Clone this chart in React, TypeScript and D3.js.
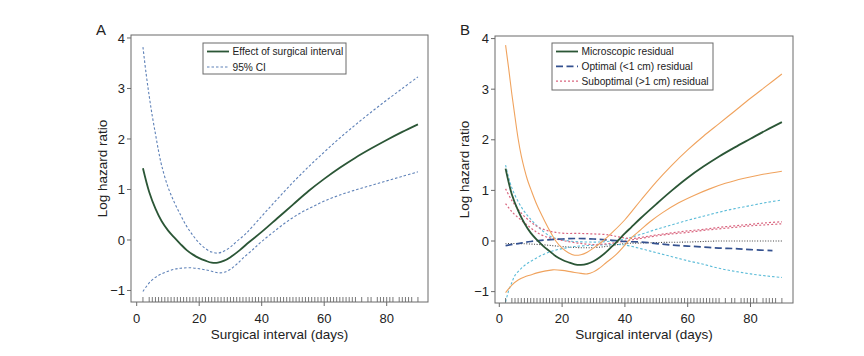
import React from "react";
import * as d3 from "d3";

// ---------- data ----------
const rugDays = [2, ...d3.range(4, 71), 72, 74, 75, 77, 78, 79, 80, 81, 82, 84, 85, 86, 87, 88, 90];
const xTicks = [0, 20, 40, 60, 80];
const yTicks = [-1, 0, 1, 2, 3, 4];

// Panel A
const aEffectDays = [2, 4, 6, 8, 10, 12, 14, 16, 18, 20, 22, 24, 26, 28, 30, 33, 36, 40, 45, 50, 55, 60, 65, 70, 75, 80, 85, 90];
const aEffect = [1.42, 0.95, 0.62, 0.37, 0.19, 0.05, -0.08, -0.2, -0.29, -0.36, -0.41, -0.45, -0.45, -0.41, -0.34, -0.2, -0.04, 0.16, 0.43, 0.7, 0.97, 1.21, 1.43, 1.63, 1.81, 1.98, 2.14, 2.29];
const aUpperDays = [2, 3, 4, 5, 6, 7, 8, 10, 12, 14, 16, 18, 20, 22, 24, 26, 28, 30, 32, 35, 40, 45, 50, 55, 60, 65, 70, 75, 80, 85, 90];
const aUpper = [3.82, 3.3, 2.85, 2.45, 2.1, 1.76, 1.47, 1.05, 0.75, 0.5, 0.27, 0.09, -0.06, -0.17, -0.24, -0.26, -0.22, -0.14, -0.03, 0.13, 0.47, 0.81, 1.14, 1.45, 1.74, 2.02, 2.28, 2.53, 2.77, 3.0, 3.23];
const aLowerDays = [2, 4, 6, 8, 10, 12, 14, 17, 20, 22, 24, 26, 28, 30, 32, 34, 37, 40, 44, 48, 52, 56, 60, 65, 70, 75, 80, 85, 90];
const aLower = [-1.02, -0.85, -0.74, -0.67, -0.62, -0.58, -0.56, -0.55, -0.57, -0.59, -0.62, -0.65, -0.64, -0.58, -0.48, -0.36, -0.2, -0.03, 0.17, 0.36, 0.52, 0.65, 0.77, 0.89, 0.99, 1.08, 1.17, 1.26, 1.35];

// Panel B
const bMicroDays = [2, 4, 6, 8, 10, 12, 14, 16, 18, 20, 22, 24, 26, 28, 30, 32, 34, 36, 38, 40, 42, 45, 50, 55, 60, 65, 70, 75, 80, 85, 90];
const bMicro = [1.43, 0.92, 0.6, 0.35, 0.16, 0.02, -0.1, -0.2, -0.3, -0.37, -0.42, -0.46, -0.47, -0.45, -0.4, -0.32, -0.22, -0.1, 0.02, 0.15, 0.27, 0.45, 0.73, 1.0, 1.25, 1.47, 1.67, 1.85, 2.02, 2.19, 2.35];
const bMicroUpDays = [2, 3, 4, 5, 6, 7, 8, 9, 10, 12, 14, 16, 18, 20, 22, 24, 26, 28, 30, 33, 36, 40, 45, 50, 55, 60, 65, 70, 75, 80, 85, 90];
const bMicroUp = [3.87, 3.4, 2.9, 2.45, 2.02, 1.68, 1.42, 1.2, 1.03, 0.71, 0.45, 0.21, 0.0, -0.14, -0.23, -0.28, -0.27, -0.22, -0.14, 0.0, 0.17, 0.42, 0.8, 1.17, 1.5, 1.8, 2.07, 2.32, 2.57, 2.82, 3.06, 3.3];
const bMicroLoDays = [2, 4, 6, 8, 10, 12, 14, 17, 20, 23, 26, 28, 30, 32, 34, 37, 40, 42, 45, 48, 52, 57, 62, 67, 72, 78, 84, 90];
const bMicroLo = [-1.02, -0.87, -0.77, -0.71, -0.67, -0.63, -0.6, -0.57, -0.58, -0.61, -0.64, -0.65, -0.61, -0.53, -0.43, -0.28, -0.08, 0.06, 0.22, 0.38, 0.56, 0.75, 0.9, 1.03, 1.14, 1.24, 1.32, 1.38];
const bOptDays = [2, 6, 10, 15, 20, 25, 30, 35, 40, 45, 50, 55, 60, 65, 70, 75, 80, 87];
const bOpt = [-0.09, -0.05, -0.01, 0.02, 0.04, 0.05, 0.04, 0.02, -0.01, -0.02, -0.05, -0.08, -0.1, -0.12, -0.14, -0.15, -0.17, -0.19];
const bRefDays = [2, 6, 10, 15, 20, 25, 30, 35, 40, 45, 50, 60, 70, 80, 90];
const bRef = [-0.05, -0.05, -0.06, -0.08, -0.11, -0.13, -0.13, -0.1, -0.05, -0.04, -0.03, -0.02, 0, 0, 0];
const bCyanUpDays = [2, 3, 4, 6, 8, 10, 12, 14, 16, 18, 20, 24, 28, 32, 36, 40, 45, 50, 55, 60, 65, 70, 75, 80, 85, 90];
const bCyanUp = [1.5, 1.25, 1.05, 0.78, 0.58, 0.43, 0.3, 0.19, 0.1, 0.05, 0.02, -0.01, -0.02, -0.02, 0.0, 0.04, 0.13, 0.23, 0.32, 0.41, 0.49, 0.57, 0.64, 0.7, 0.76, 0.81];
const bCyanLoDays = [2, 3, 4, 5, 7, 9, 12, 15, 18, 21, 24, 28, 32, 36, 40, 45, 50, 55, 60, 65, 70, 75, 80, 85, 90];
const bCyanLo = [-1.2, -0.98, -0.82, -0.68, -0.54, -0.44, -0.33, -0.24, -0.18, -0.14, -0.11, -0.09, -0.08, -0.07, -0.08, -0.15, -0.23, -0.31, -0.39, -0.46, -0.54, -0.6, -0.65, -0.69, -0.72];
const bPink1Days = [2, 4, 7, 10, 12, 15, 18, 21, 25, 30, 35, 38, 42, 46, 50, 55, 60, 65, 70, 75, 80, 85, 90];
const bPink1 = [1.03, 0.8, 0.55, 0.38, 0.29, 0.21, 0.17, 0.15, 0.15, 0.14, 0.12, 0.08, 0.05, 0.08, 0.12, 0.16, 0.2, 0.23, 0.27, 0.3, 0.33, 0.36, 0.38];
const bPink2Days = [2, 4, 7, 10, 12, 15, 18, 21, 25, 30, 35, 40, 45, 50, 55, 60, 65, 70, 75, 80, 85, 90];
const bPink2 = [0.74, 0.58, 0.41, 0.26, 0.17, 0.08, 0.04, 0.0, -0.04, -0.07, -0.05, 0.0, 0.05, 0.1, 0.14, 0.17, 0.21, 0.24, 0.27, 0.3, 0.32, 0.34];

const legendA = ["Effect of surgical interval", "95% CI"];
const legendB = ["Microscopic residual", "Optimal (<1 cm) residual", "Suboptimal (>1 cm) residual"];

// ---------- styles ----------
const FONT = "'Liberation Sans', Arial, Helvetica, sans-serif";
const GREEN = "#2b5636";
const CI_BLUE = "#5f82b8";
const ORANGE = "#f0a35e";
const CYAN = "#5cbcd8";
const PINK = "#d9657f";
const NAVY = "#34518f";
const AXIS = "#6a6a6a";

type Style = { color: string; width: number; dash?: string };
type Series = { days: number[]; vals: number[]; style: Style };

const S_GREEN: Style = { color: GREEN, width: 1.8 };
const S_CI: Style = { color: CI_BLUE, width: 1.1, dash: "2.5,2" };
const S_ORANGE: Style = { color: ORANGE, width: 1.1 };
const S_CYAN: Style = { color: CYAN, width: 1.1, dash: "2.5,2" };
const S_PINK: Style = { color: PINK, width: 1.2, dash: "2,2" };
const S_NAVY: Style = { color: NAVY, width: 1.7, dash: "7,3.5" };
const S_REF: Style = { color: "#444", width: 1.1, dash: "1,1.6" };

type PanelProps = {
  label: string;
  left: number; right: number; top: number; bottom: number;
  xDomain: [number, number]; yDomain: [number, number];
  titleX: number;
  series: Series[];
  legend: { items: { text: string; style: Style }[]; x: number; y: number; w: number; h: number; rowH: number };
};

function Panel(p: PanelProps) {
  const x = d3.scaleLinear().domain(p.xDomain).range([p.left, p.right]);
  const y = d3.scaleLinear().domain(p.yDomain).range([p.bottom, p.top]);
  const line = d3
    .line<[number, number]>()
    .x((d) => x(d[0]))
    .y((d) => y(d[1]))
    .curve(d3.curveCatmullRom.alpha(0.5));
  const cx = (p.left + p.right) / 2;
  const cy = (p.top + p.bottom) / 2;
  return (
    <g fontFamily={FONT} fill="#222">
      {p.series.map((s, i) => (
        <path
          key={i}
          d={line(s.days.map((d, j) => [d, s.vals[j]] as [number, number])) || ""}
          fill="none"
          stroke={s.style.color}
          strokeWidth={s.style.width}
          strokeDasharray={s.style.dash}
        />
      ))}
      {rugDays.map((d, i) => (
        <line key={"r" + i} x1={x(d)} x2={x(d)} y1={p.bottom} y2={p.bottom - 5} stroke="#555" strokeWidth={0.8} />
      ))}
      <rect x={p.left} y={p.top} width={p.right - p.left} height={p.bottom - p.top} fill="none" stroke={AXIS} strokeWidth={1} />
      {xTicks.map((t) => (
        <g key={"x" + t}>
          <line x1={x(t)} x2={x(t)} y1={p.bottom} y2={p.bottom + 4} stroke={AXIS} strokeWidth={1} />
          <text x={x(t)} y={323} textAnchor="middle" fontSize={13} fill="#222">{t}</text>
        </g>
      ))}
      {yTicks.map((t) => (
        <g key={"y" + t}>
          <line x1={p.left} x2={p.left - 4} y1={y(t)} y2={y(t)} stroke={AXIS} strokeWidth={1} />
          <text x={p.left - 6} y={y(t)} dy="0.35em" textAnchor="end" fontSize={13} fill="#222">
            {t < 0 ? "\u2212" + Math.abs(t) : String(t)}
          </text>
        </g>
      ))}
      <text x={cx} y={339} textAnchor="middle" fontSize={13.5} fill="#222">Surgical interval (days)</text>
      <text transform={`translate(${p.titleX},${cy}) rotate(-90)`} textAnchor="middle" fontSize={13.5} fill="#222">Log hazard ratio</text>
      <text x={p.left - 35} y={35} fontSize={15} fill="#222">{p.label}</text>
      <rect x={p.legend.x} y={p.legend.y} width={p.legend.w} height={p.legend.h} fill="#fff" stroke={AXIS} strokeWidth={1} />
      {p.legend.items.map((it, i) => {
        const ly = p.legend.y + 8.5 + i * p.legend.rowH;
        return (
          <g key={"l" + i}>
            <line x1={p.legend.x + 4} x2={p.legend.x + 26} y1={ly} y2={ly} stroke={it.style.color} strokeWidth={it.style.width} strokeDasharray={it.style.dash} />
            <text x={p.legend.x + 29.5} y={ly} dy="0.35em" fontSize={10.2} fill="#222">{it.text}</text>
          </g>
        );
      })}
    </g>
  );
}

export default function App() {
  const seriesA: Series[] = [
    { days: aUpperDays, vals: aUpper, style: S_CI },
    { days: aLowerDays, vals: aLower, style: S_CI },
    { days: aEffectDays, vals: aEffect, style: S_GREEN },
  ];
  const seriesB: Series[] = [
    { days: bRefDays, vals: bRef, style: S_REF },
    { days: bCyanUpDays, vals: bCyanUp, style: S_CYAN },
    { days: bCyanLoDays, vals: bCyanLo, style: S_CYAN },
    { days: bPink1Days, vals: bPink1, style: S_PINK },
    { days: bPink2Days, vals: bPink2, style: S_PINK },
    { days: bOptDays, vals: bOpt, style: S_NAVY },
    { days: bMicroUpDays, vals: bMicroUp, style: S_ORANGE },
    { days: bMicroLoDays, vals: bMicroLo, style: S_ORANGE },
    { days: bMicroDays, vals: bMicro, style: S_GREEN },
  ];
  return (
    <svg width={864} height={356} style={{ position: "absolute", left: 0, top: 0, background: "#fff" }}>
      <rect x={0} y={0} width={864} height={356} fill="#fff" />
      <Panel
        label="A"
        left={131} right={428} top={35} bottom={302}
        xDomain={[-1.824, 93.22]} yDomain={[-1.228, 4.059]}
        titleX={107}
        series={seriesA}
        legend={{ items: [{ text: legendA[0], style: S_GREEN }, { text: legendA[1], style: S_CI }], x: 203, y: 43, w: 143, h: 31, rowH: 15.5 }}
      />
      <Panel
        label="B"
        left={495} right={793} top={36} bottom={303}
        xDomain={[-1.37, 93.54]} yDomain={[-1.225, 4.051]}
        titleX={469}
        series={seriesB}
        legend={{ items: [{ text: legendB[0], style: S_GREEN }, { text: legendB[1], style: S_NAVY }, { text: legendB[2], style: S_PINK }], x: 552, y: 43, w: 161, h: 47, rowH: 14.8 }}
      />
    </svg>
  );
}
